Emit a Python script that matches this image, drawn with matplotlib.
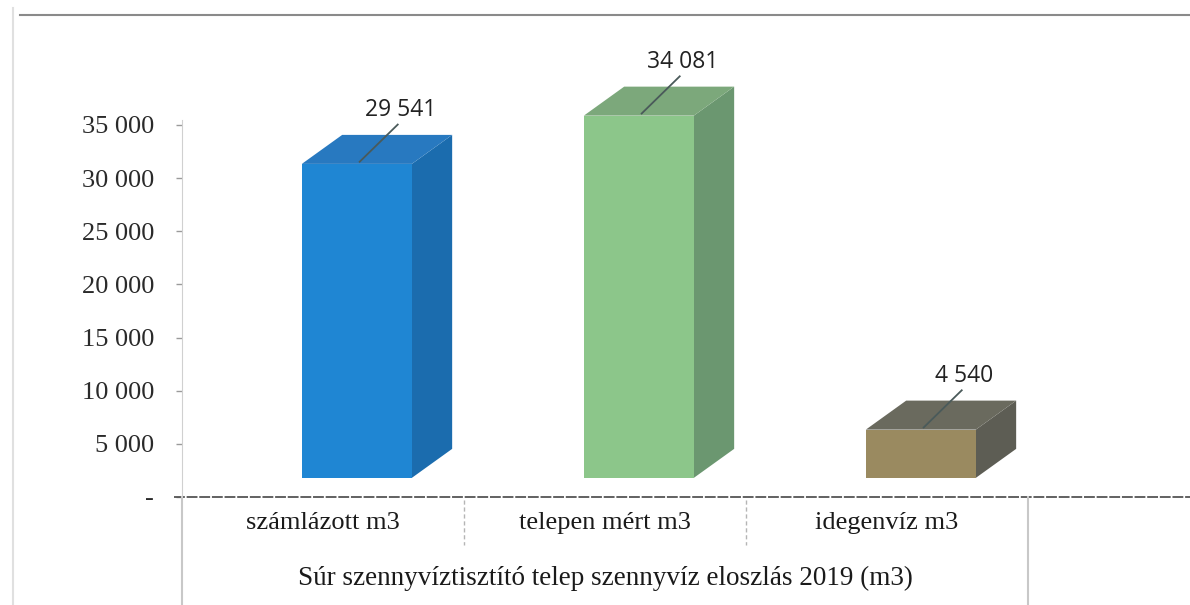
import numpy as np
import matplotlib
matplotlib.use("Agg")
import matplotlib.pyplot as plt
from matplotlib.patches import Polygon
from matplotlib.lines import Line2D

# data
categories = ["számlázott m3", "telepen mért m3", "idegenvíz m3"]
values = [29541, 34081, 4540]
value_labels = ["29 541", "34 081", "4 540"]
yticks = [0, 5000, 10000, 15000, 20000, 25000, 30000, 35000]
ytick_labels = ["-", "5 000", "10 000", "15 000", "20 000", "25 000", "30 000", "35 000"]
axis_title = "Súr szennyvíztisztító telep szennyvíz eloszlás 2019 (m3)"

# colours: front, side, top
front_cols = ["#1f86d3", "#8cc68a", "#9a8a60"]
side_cols = ["#1b6cae", "#6b9770", "#5d5d54"]
top_cols = ["#2879c0", "#7ca87b", "#6a6a5e"]

W, H = 1190, 605
fig = plt.figure(figsize=(W / 100, H / 100), dpi=100)

# axes placed in pixel terms
x0, x1 = 182, 1028
y_zero, y_top = 497, 15
px_per_unit = (497 - 125) / 35000
ax = fig.add_axes([x0 / W, 1 - y_zero / H, (x1 - x0) / W, (y_zero - y_top) / H])
ax.set_xlim(0, 3)
ax.set_ylim(0, (y_zero - y_top) / px_per_unit)

serif = "Liberation Serif"

# 3d-ish bars
width = 0.39
dx = 0.143
dy = 29 / px_per_unit
base = 1800
shift = 0.12
for i, v in enumerate(values):
    cx = i + 0.5 + shift
    l, r = cx - width / 2, cx + width / 2
    b, t = base, base + v
    side = Polygon([(r, b), (r + dx, b + dy), (r + dx, t + dy), (r, t)],
                   closed=True, fc=side_cols[i], ec="none", zorder=2)
    top = Polygon([(l, t), (l + dx, t + dy), (r + dx, t + dy), (r, t)],
                  closed=True, fc=top_cols[i], ec="none", zorder=2)
    front = Polygon([(l, b), (r, b), (r, t), (l, t)],
                    closed=True, fc=front_cols[i], ec="none", zorder=3)
    for p in (side, top, front):
        ax.add_patch(p)
    # leader line + label
    ax.plot([cx + 0.01, cx + 0.145], [t + 200, t + 3700], color="#4a5a5a", lw=1.3, zorder=4)
    ax.text(cx + 0.155, t + 3900, value_labels[i], ha="center", va="bottom",
            fontsize=16.5, family="Open Sans", color="#222222")

# y axis
ax.set_yticks(yticks)
ax.set_yticklabels(ytick_labels, family=serif, fontsize=19, color="#2a2a2a")
ax.tick_params(axis="y", length=4, width=1, color="#9a9a9a", pad=16)
ax.set_xticks([])
for s in ("top", "right", "bottom"):
    ax.spines[s].set_visible(False)
ax.spines["left"].set_color("#d0d0d0")
ax.spines["left"].set_bounds(0, 35500)

# category table below the axis
ax.axhline(0, color="#555555", lw=1.3, ls=(0, (6, 1)), xmin=-0.01, xmax=1.2, clip_on=False)
trans = ax.get_xaxis_transform()
to_ax = lambda py: (y_zero - py) / (y_zero - y_top)
for xs in (1, 2):
    ax.plot([xs, xs], [to_ax(500), to_ax(545)], color="#b5b5b5", lw=1, ls=(0, (3, 2)),
            transform=trans, clip_on=False)
for xs in (0, 3):
    ax.plot([xs, xs], [to_ax(497), to_ax(605)], color="#c8c8c8", lw=1.5,
            transform=trans, clip_on=False)
for i, c in enumerate(categories):
    ax.text(i + 0.5, to_ax(523), c, transform=trans, ha="center", va="center",
            family=serif, fontsize=19, color="#1a1a1a")
ax.text(1.5, to_ax(578), axis_title, transform=trans, ha="center", va="center",
        family=serif, fontsize=19.5, color="#1a1a1a")

# scan frame lines
fig.add_artist(Line2D([20 / W, 1], [1 - 15 / H, 1 - 15 / H], color="#8a8a8a", lw=1.5))
fig.add_artist(Line2D([13 / W, 13 / W], [0, 1 - 8 / H], color="#e0e0e0", lw=1.5))

fig.savefig("out.png", dpi=100, facecolor="white")
